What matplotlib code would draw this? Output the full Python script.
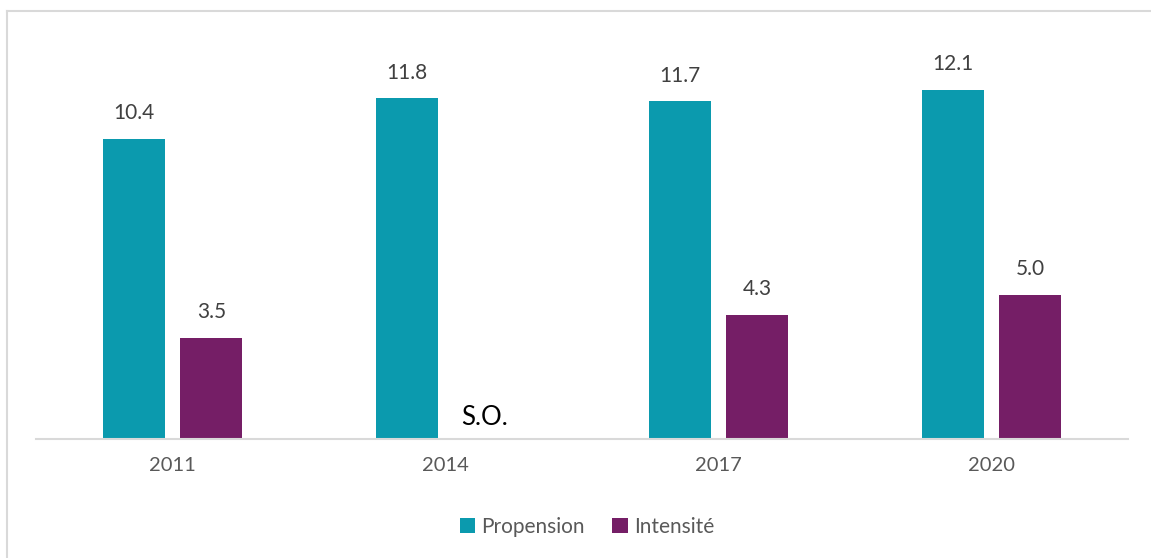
import matplotlib.pyplot as plt
import numpy as np
from matplotlib.lines import Line2D

years = ['2011', '2014', '2017', '2020']
propension = [10.4, 11.8, 11.7, 12.1]
intensite = [3.5, None, 4.3, 5.0]
missing_label = 'S.O.'

plt.rcParams['font.family'] = ['Lato', 'DejaVu Sans']

teal = '#0B9AAE'
purple = '#751E66'

fig = plt.figure(figsize=(11.51, 5.58), dpi=100)
# frame of the chart area: only top and left edges are visible (cropped)
fx, fy = 7 / 1151, 1 - 10.5 / 558
fig.lines.append(Line2D([fx, fx], [0, fy], transform=fig.transFigure,
                        color='#D9D9D9', linewidth=1.5))
fig.lines.append(Line2D([fx, 1], [fy, fy], transform=fig.transFigure,
                        color='#D9D9D9', linewidth=1.5))

ax = fig.add_axes([36 / 1151, (558 - 439) / 558, 1092 / 1151, (439 - 35) / 558])

x = np.arange(len(years))
w = 0.227
off = 0.142

ax.bar(x - off, propension, w, color=teal, label='Propension')
vals = [v if v is not None else 0 for v in intensite]
ax.bar(x + off, vals, w, color=purple, label='Intensité')

for i, v in enumerate(propension):
    ax.text(x[i] - off, v + 0.55, f'{v:.1f}', ha='center', va='bottom',
            fontsize=15, color='#404040')
for i, v in enumerate(intensite):
    if v is None:
        ax.text(x[i] + off, 0.3, missing_label, ha='center', va='bottom',
                fontsize=18.5, color='black')
    else:
        ax.text(x[i] + off, v + 0.55, f'{v:.1f}', ha='center', va='bottom',
                fontsize=15, color='#404040')

ax.set_xlim(-0.5, len(years) - 0.5)
ax.set_ylim(0, 14)
ax.set_xticks(x)
ax.set_xticklabels(years, fontsize=14.5, color='#595959')
ax.tick_params(axis='x', length=0, pad=13)
ax.set_yticks([])
for s in ['top', 'right', 'left']:
    ax.spines[s].set_visible(False)
ax.spines['bottom'].set_color('#D9D9D9')
ax.spines['bottom'].set_linewidth(1.5)

leg = fig.legend(loc='center', bbox_to_anchor=(587 / 1151, 1 - 527 / 558), ncol=2,
                 frameon=False, fontsize=15, handlelength=0.75, handleheight=0.75,
                 handletextpad=0.3, columnspacing=1.3)
for t in leg.get_texts():
    t.set_color('#595959')

fig.savefig('out.png', dpi=100)
